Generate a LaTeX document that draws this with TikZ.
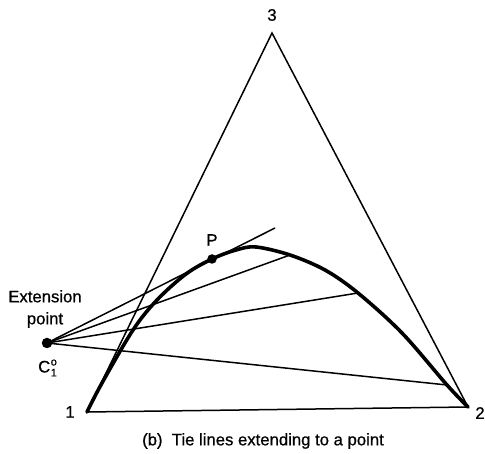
\documentclass[tikz,border=0pt]{standalone}
\usepackage{fontspec}
\setmainfont[FakeBold=0.7,BoldFont={Liberation Sans}]{Liberation Sans}
\begin{document}
\begin{tikzpicture}[x=1pt,y=-1pt,
  thin line/.style={line width=1.5pt},
  curve line/.style={line width=3.6pt, line cap=round, line join=round},
  dot/.style={circle, fill=black, inner sep=0pt, minimum size=10.5pt},
  lbl/.style={font=\fontsize{16.7}{19}\selectfont\bfseries, inner sep=1pt}]
\useasboundingbox (0,0) rectangle (485,454);
% vertices
\coordinate (v1) at (87,412);
\coordinate (v2) at (468,407);
\coordinate (v3) at (272,33);
% curve points
\coordinate (c1) at (102,383);
\coordinate (c2) at (133,330);
\coordinate (c3) at (157,300);
\coordinate (c4) at (186,274);
\coordinate (P) at (212,259);
\coordinate (c5) at (236,250);
\coordinate (c6) at (256,247);
\coordinate (t2) at (290,255);
\coordinate (c7) at (325,270);
\coordinate (t3) at (358,293);
\coordinate (c8) at (402,333);
\coordinate (t4) at (447,385);
\coordinate (t1) at (275,228);
% triangle
\draw[thin line, line join=miter] (v1) -- (v2) -- (v3) -- cycle;
% tie lines
\node[dot] (C) at (47,343) {};
\draw[thin line] (C.center) -- (t1);
\draw[thin line] (C.center) -- (t2);
\draw[thin line] (C.center) -- (t3);
\draw[thin line] (C.center) -- (t4);
% binodal curve
\draw[curve line] plot[smooth, tension=0.55] coordinates {(v1) (c1) (c2) (c3) (c4) (P) (c5) (c6) (t2) (c7) (t3) (c8) (t4) (v2)};
\node[dot, minimum size=9.5pt] (Pd) at (P) {};
% labels
\node[lbl] (l3) at (272,15) {3};
\node[lbl] (l1) at (70,412) {1};
\node[lbl] (l2) at (480,413) {2};
\node[lbl] (lP) at (212,240) {P};
\node[lbl, align=center, font=\fontsize{16.7}{22}\selectfont\bfseries] (lext) at (45,309) {Extension\\point};
\node[lbl, anchor=west] (lC) at (37,368) {C\kern0.5pt\rlap{\raisebox{-4pt}{\fontsize{11}{11}\selectfont\bfseries 1}}\raisebox{7pt}{\fontsize{11}{11}\selectfont\bfseries o}};
\node[lbl] (cap) at (263,441) {(b)\ \ Tie lines extending to a point};
\end{tikzpicture}
\end{document}
